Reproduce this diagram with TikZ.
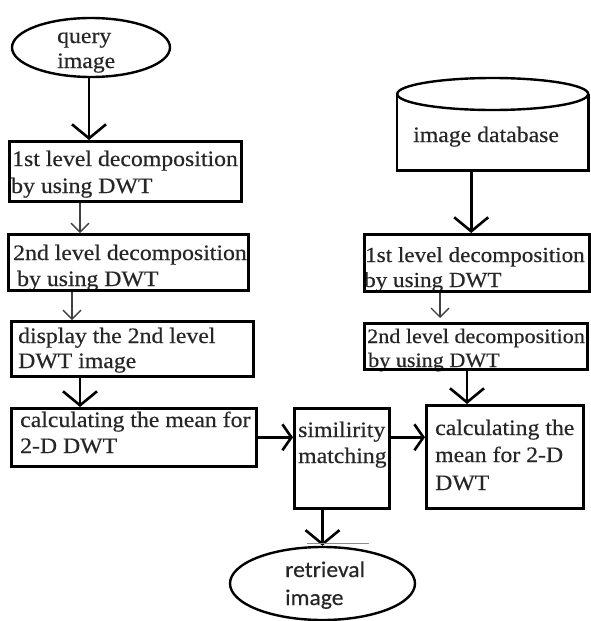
\documentclass[tikz,border=0pt]{standalone}
\usepackage{fontspec}
\setmainfont{Liberation Serif}[FakeStretch=1.08,FakeBold=0.4]
\newfontfamily\ovalfont{Carlito}[FakeStretch=1.05,FakeBold=0.4]
\usetikzlibrary{arrows.meta,shapes.geometric}

\begin{document}
\begin{tikzpicture}[x=1pt,y=-1pt,
  box/.style={draw, line width=2.6pt, inner sep=0pt, anchor=north west},
  oval/.style={draw, ellipse, line width=2.4pt, inner sep=0pt},
  txt/.style={anchor=base west, inner sep=0pt, text=black!85, font=\fontsize{22}{27}\selectfont},
  righttxt/.style={txt, font=\fontsize{21.4}{26}\selectfont},
  smalltxt/.style={txt, font=\fontsize{20.5}{25}\selectfont},
  ovaltxt/.style={anchor=base west, inner sep=0pt, text=black!85, font=\ovalfont\fontsize{22.5}{28}\selectfont},
  bigarrow/.style={line width=2.8pt, -{Straight Barb[length=14pt,width=34pt,line width=2.6pt]}},
  sidearrow/.style={line width=2.8pt, -{Straight Barb[length=9pt,width=26pt,line width=2.6pt]}},
  thinarrow/.style={line width=1.4pt, black!75, -{Straight Barb[length=9pt,width=18pt,line width=1.4pt]}},
]
\useasboundingbox (0,0) rectangle (590,621);

% ---- left column: query path ----
\node[oval, minimum width=158pt, minimum height=59pt] (q) at (91,47.5) {};
\node[txt] (qa) at (57,43) {query};
\node[txt] (qb) at (57,68) {image};

\node[txt] (t1a) at (12,166) {1st level decomposition};
\node[txt] (t1b) at (11,193) {by using DWT};
\node[box, minimum width=232pt, minimum height=60pt] (b1) at (8,140) {};

\node[txt] (t2a) at (13,260) {2nd level decomposition};
\node[txt] (t2b) at (17,286) {by using DWT};
\node[box, minimum width=240pt, minimum height=56pt] (b2) at (7,233) {};

\node[txt] (t3a) at (18,343) {display the 2nd level};
\node[txt] (t3b) at (18,368) {DWT image};
\node[box, minimum width=242pt, minimum height=55pt] (b3) at (10,320) {};

\node[txt] (t4a) at (20,427) {calculating the mean for};
\node[txt] (t4b) at (20,453) {2-D DWT};
\node[box, minimum width=245pt, minimum height=58pt] (b4) at (10,407) {};

% ---- matching ----
\node[txt] (tsa) at (298,437) {similirity};
\node[txt] (tsb) at (298,463) {matching};
\node[box, minimum width=95pt, minimum height=100pt] (sim) at (293,407) {};

\node[oval, minimum width=185pt, minimum height=73pt] (ret) at (322.5,583.5) {};
\node[ovaltxt] (ra) at (285,577) {retrieval};
\node[ovaltxt] (rb) at (285,605) {image};

% ---- right column: database path ----
\node[minimum width=191pt, minimum height=76pt, inner sep=0pt, anchor=north west] (db) at (397,94) {};
\draw[line width=2.6pt] (db.north west) -- (db.south west) -- (db.south east) -- (db.north east);
\draw[line width=2.4pt] (db.north) ellipse [x radius=95.5, y radius=16];
\node[txt] (tdb) at (413,142) {image database};

\node[righttxt] (r1a) at (365,262) {1st level decomposition};
\node[righttxt] (r1b) at (364,287) {by using DWT};
\node[box, minimum width=225pt, minimum height=57pt] (rb1) at (363,233) {};

\node[smalltxt] (r2a) at (367,343) {2nd level decomposition};
\node[smalltxt] (r2b) at (368,367) {by using DWT};
\node[box, minimum width=223pt, minimum height=46pt] (rb2) at (363,322) {};

\node[txt] (rca) at (435,435) {calculating the};
\node[txt] (rcb) at (435,462) {mean for 2-D};
\node[txt] (rcc) at (435,490) {DWT};
\node[box, minimum width=157pt, minimum height=103pt] (rc) at (425,404) {};

% ---- connectors ----
\draw[bigarrow] ([xshift=-2pt]q.south) -- ([xshift=-2pt]q.south |- b1.north);
\draw[thinarrow] ([xshift=72pt]b1.south west) -- ([xshift=72pt]b1.south west |- b2.north);
\draw[thinarrow] ([xshift=65pt]b2.south west) -- ([xshift=65pt]b2.south west |- b3.north);
\draw[bigarrow] ([xshift=70pt]b3.south west) -- ([xshift=70pt]b3.south west |- b4.north);
\draw[sidearrow] (b4.east) -- (b4.east -| sim.west);
\draw[sidearrow] (sim.east |- b4.east) -- (b4.east -| rc.west);
\draw[bigarrow] (ret.north |- sim.south) -- (ret.north);
\draw[black!45, line width=1pt] ([xshift=-15.5pt,yshift=2pt]ret.north) -- ([xshift=46.5pt,yshift=2pt]ret.north);

\draw[bigarrow] ([xshift=-21.5pt]db.south) -- ([xshift=-21.5pt]db.south |- rb1.north);
\draw[thinarrow] ([xshift=77pt]rb1.south west) -- ([xshift=77pt,yshift=4pt]rb1.south west |- rb2.north);
\draw[bigarrow] ([xshift=42pt]rc.north west |- rb2.south) -- ([xshift=42pt]rc.north west);
\end{tikzpicture}
\end{document}
